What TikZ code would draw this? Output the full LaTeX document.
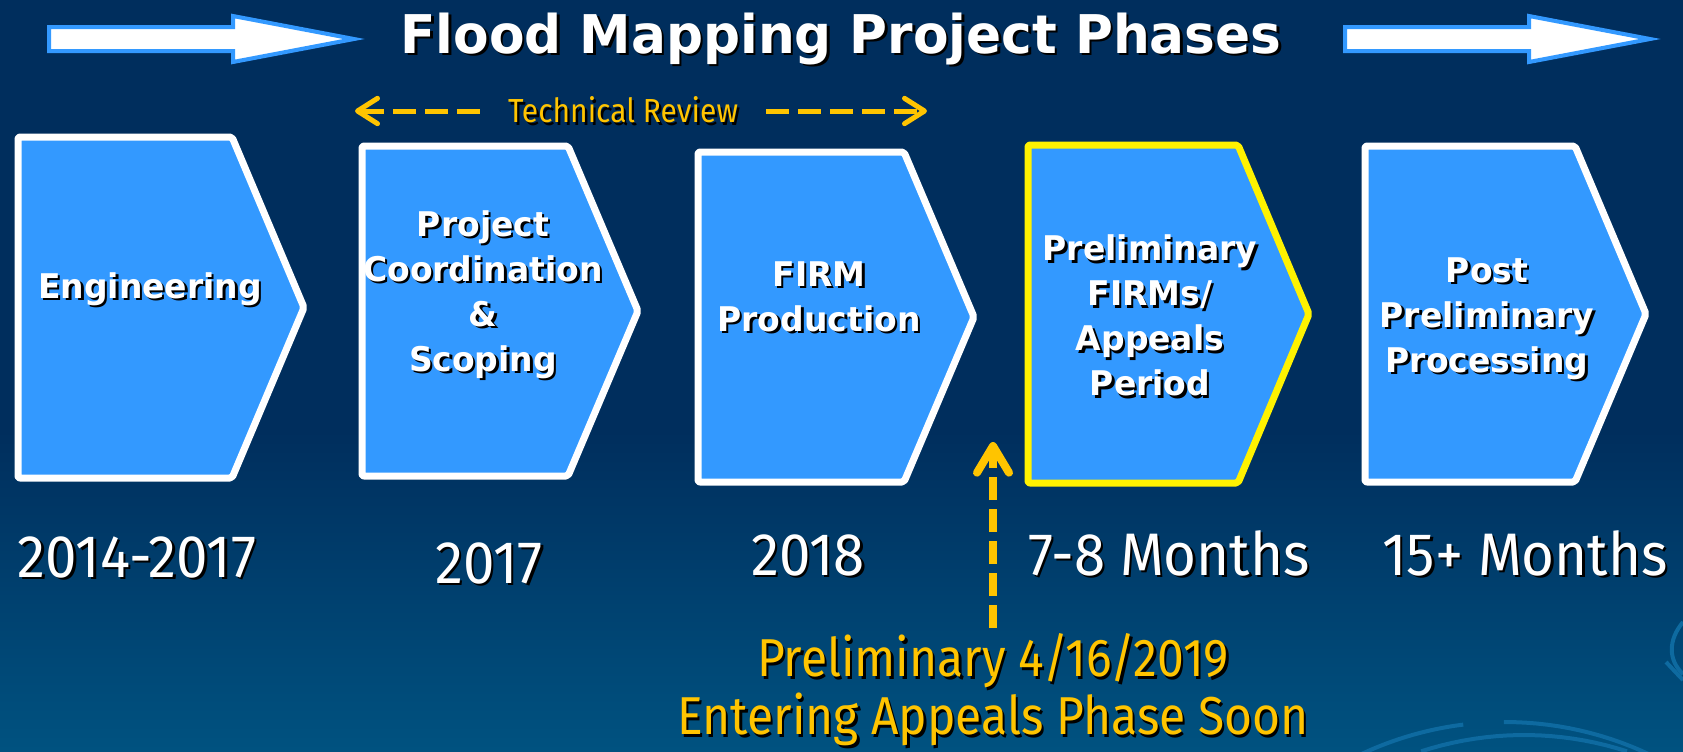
\documentclass[tikz,border=0pt]{standalone}
\usepackage{fontspec}
\usepackage{tikz}
\usepackage{xcolor}
\usetikzlibrary{arrows.meta}

\newfontfamily\headfont{DejaVu Sans}[FakeStretch=0.97]
\newfontfamily\notefont{Fira Sans}[FakeStretch=0.9]
\newfontfamily\durfont{Fira Sans}[FakeStretch=0.94]

\definecolor{bgtop}{RGB}{0,46,93}
\definecolor{bgbot}{RGB}{0,82,128}
\definecolor{phaseblue}{RGB}{51,153,255}
\definecolor{amber}{RGB}{255,196,0}
\definecolor{swirl}{RGB}{14,106,160}

% text with a dark drop shadow behind it
\newcommand\shd[1]{\leavevmode\rlap{\kern1.8pt\raisebox{-1.8pt}{\color{black}#1}}#1}

\tikzset{
  phasebox/.style={line width=5.25pt,fill=phaseblue,line join=round,rounded corners=1.5pt},
  phasetext/.style={text=white,font=\headfont\bfseries\fontsize{25.5}{33.75}\selectfont,align=center},
  yeartext/.style={text=white,font=\durfont\fontsize{45}{50}\selectfont,anchor=base},
  headarrow/.style={draw=phaseblue,line width=3pt,fill=white,line join=miter},
  review/.style={amber,line width=3.75pt,dash pattern=on 17pt off 7pt,-{Straight Barb[length=15pt,width=19pt,round]}},
  noteline/.style={amber,line width=6pt,dash pattern=on 17pt off 7pt,-{Straight Barb[length=20pt,width=24pt,round]}},
}

\begin{document}
\begin{tikzpicture}[x=0.75pt,y=-0.75pt]
  \useasboundingbox (0,0) rectangle (1683,751);
  \fill[bgtop] (0,0) rectangle (1683,751);
  \shade[top color=bgtop,bottom color=bgbot] (0,430) rectangle (1683,751);

  % faint swirl in the lower right corner
  \draw[swirl,line width=3pt] plot[domain=115.2:97.1,samples=20] ({1505+338*cos(\x)},{1060-338*sin(\x)});
  \draw[swirl,line width=3pt] plot[domain=90.2:55,samples=20] ({1505+338*cos(\x)},{1060-338*sin(\x)});
  \draw[swirl,line width=3pt] plot[domain=108:72,samples=20] ({1524+333*cos(\x)},{1068-333*sin(\x)});
  \draw[swirl,line width=3pt] (1683,622) .. controls (1668,640) and (1668,660) .. (1683,674);
  \draw[swirl,line width=3pt] (1666,662) -- (1683,680);

  % heading with an arrow on each side
  \foreach \dx in {0,1296}
    \draw[headarrow] ({\dx+49},27) -- ({\dx+233},27) -- ({\dx+233},16) -- ({\dx+354},39)
      -- ({\dx+233},62) -- ({\dx+233},51) -- ({\dx+49},51) -- cycle;
  \node[text=white,font=\headfont\bfseries\fontsize{40}{48}\selectfont,anchor=base] (title) at (841,53) {\shd{Flood Mapping Project Phases}};

  % technical review span
  \node[text=amber,font=\notefont\fontsize{25}{30}\selectfont,inner xsep=21pt] (review) at (623,111) {\shd{Technical Review}};
  \coordinate (revleft) at (355,111);
  \coordinate (revright) at (927,111);
  \draw[review] (review.west) -- (revleft);
  \draw[review] (review.east) -- (revright);

  % the five phases
  \foreach \l/\t/\b/\n/\p/\c in {18/137/478/232/304/white, 362/146/476/568/638/white,
      698/152/482/904/974/white, 1028/145/483/1238/1309/yellow, 1365/146/482/1575/1646/white}
    \draw[phasebox,draw=\c] (\l,\t) -- (\n,\t) -- (\p,{(\t+\b)/2}) -- (\n,\b) -- (\l,\b) -- cycle;

  \node[phasetext] (eng) at (150,290) {\shd{Engineering}};
  \node[phasetext] (scope) at (483,296) {\shd{Project}\\\shd{Coordination}\\\shd{\&}\\\shd{Scoping}};
  \node[phasetext] (firm) at (819,298) {\shd{FIRM}\\\shd{Production}};
  \node[phasetext] (appeal) at (1150,317) {\shd{Preliminary}\\\shd{FIRMs/}\\\shd{Appeals}\\\shd{Period}};
  \node[phasetext] (post) at (1487,320) {\shd{Post}\\\shd{Preliminary}\\\shd{Processing}};

  % durations
  \node[yeartext] (dur1) at (137,577) {\shd{2014-2017}};
  \node[yeartext] (dur2) at (489,583) {\shd{2017}};
  \node[yeartext] (dur3) at (808,575) {\shd{2018}};
  \node[yeartext] (dur4) at (1169,575) {\shd{7-8 Months}};
  \node[yeartext] (dur5) at (1525,575) {\shd{15+ Months}};

  % where the project stands now
  \node[text=amber,font=\notefont\fontsize{40}{43.5}\selectfont,align=center,inner sep=4pt] (note) at (993,691)
    {\shd{Preliminary 4/16/2019}\\\shd{Entering Appeals Phase Soon}};
  \coordinate (nowtip) at (993,442);
  \draw[noteline] (note.north) -- (nowtip);
\end{tikzpicture}
\end{document}
